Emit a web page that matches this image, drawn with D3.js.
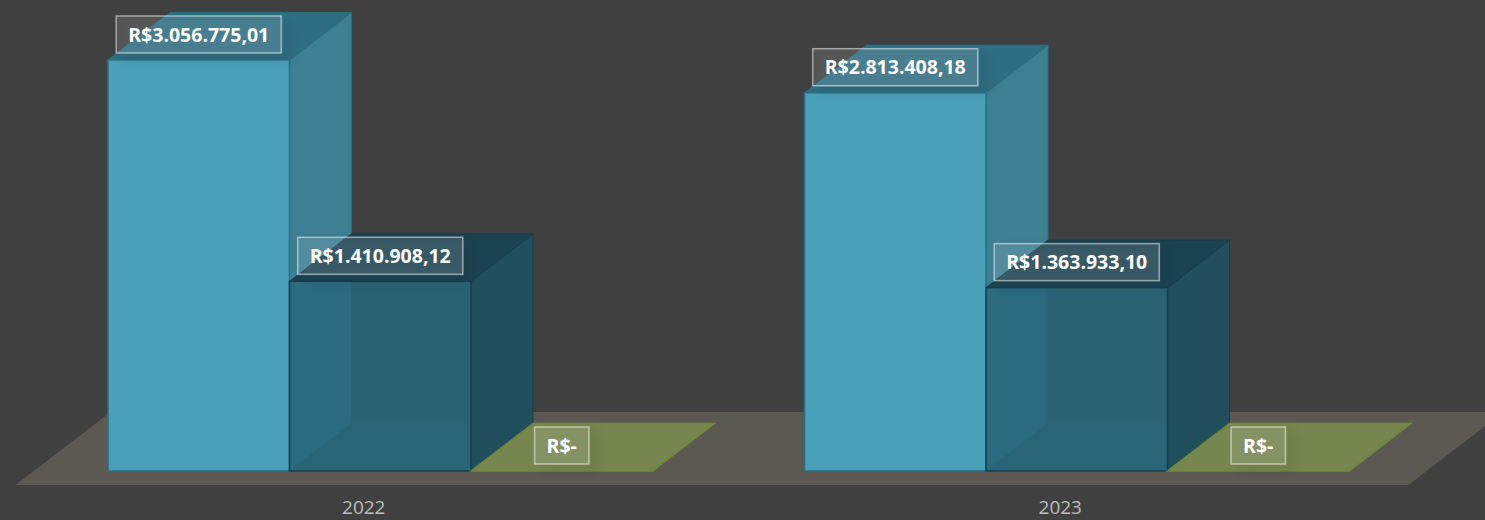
<!DOCTYPE html>
<html>
<head>
<meta charset="utf-8">
<script src="https://cdn.jsdelivr.net/npm/d3@7"></script>
<style>
  html, body { margin: 0; padding: 0; background: #404040; }
  svg { display: block; }
  text { font-family: "Open Sans", sans-serif; }
</style>
</head>
<body>
<div id="renderer"></div>
<script>
var categories = ['2022', '2023'];
var seriesNames = ['a', 'b', 'c'];
var series_a = [3056775.01, 2813408.18];
var series_b = [1410908.12, 1363933.10];
var series_c = [0, 0];

var width = 1485;
var height = 520;
var baseY = 471;
var depthX = 62;
var depthY = 47.5;

var svg = d3
  .select('#renderer')
  .append('svg')
  .attr('width', width)
  .attr('height', height);

svg.append('rect').attr('width', width).attr('height', height).attr('fill', '#404040');

var defs = svg.append('defs');
var shadow = defs.append('filter').attr('id', 'labelShadow')
  .attr('x', '-30%').attr('y', '-40%').attr('width', '170%').attr('height', '190%');
shadow.append('feDropShadow')
  .attr('dx', 8).attr('dy', 6).attr('stdDeviation', 6)
  .attr('flood-color', '#000').attr('flood-opacity', 0.42);

var x0 = d3.scaleBand().domain(categories).range([15.5, 1408.5]);
var x1 = d3.scaleBand().domain(seriesNames).range([92.5, 637]);
var y = d3.scaleLinear().domain([0, 3500000]).range([baseY, 0.4]);

var locale = d3.formatLocale({
  decimal: ',',
  thousands: '.',
  grouping: [3],
  currency: ['R$', '']
});
var money = locale.format('$,.2f');
function labelText(v) {
  return v === 0 ? 'R$-' : money(v);
}

// colours of the box faces for each series
var faces = {
  a: { front: '#4a9fb9', side: '#3d7f93', top: '#2f6e82', back: '#3b7a8d', floor: '#3b7a8d', edge: '#2a6f84', alpha: 1 },
  b: { front: '#28657a', side: '#224f5e', top: '#1c4351', back: '#335656', floor: '#32656a', edge: '#163f4e', alpha: 0.8 },
  c: { front: '#77864f', side: '#77864f', top: '#77864f', back: '#77864f', floor: '#77864f', edge: '#6f8a3a', alpha: 1 }
};

var rows = [];
categories.forEach(function (c, i) {
  rows.push({ cat: c, name: 'a', value: series_a[i] });
  rows.push({ cat: c, name: 'b', value: series_b[i] });
  rows.push({ cat: c, name: 'c', value: series_c[i] });
});

function pts(list) {
  return list.map(function (p) { return p[0] + ',' + p[1]; }).join(' ');
}

// floor
svg.append('polygon')
  .attr('points', pts([
    [15.5, baseY + 14],
    [x0.range()[1], baseY + 14],
    [x0.range()[1] + 95, baseY - 59],
    [15.5 + 95, baseY - 59]
  ]))
  .attr('fill', '#5c5852');

var bars = svg.append('g');

rows.forEach(function (d) {
  var f = faces[d.name];
  var left = x0(d.cat) + x1(d.name);
  var right = left + x1.bandwidth();
  var top = y(d.value);
  var g = bars.append('g');

  if (d.value === 0) {
    // nothing to stack, just the flat plate on the floor
    g.append('polygon')
      .attr('points', pts([
        [left, baseY], [right, baseY],
        [right + depthX, baseY - depthY], [left + depthX, baseY - depthY]
      ]))
      .attr('fill', f.top)
      .attr('stroke', f.edge)
      .attr('stroke-width', 1.5);
    return;
  }

  // back and floor faces show through the front
  g.append('rect')
    .attr('x', left + depthX).attr('y', top - depthY)
    .attr('width', x1.bandwidth()).attr('height', baseY - top)
    .attr('fill', f.back);
  g.append('polygon')
    .attr('points', pts([
      [left, baseY], [right, baseY],
      [right + depthX, baseY - depthY], [left + depthX, baseY - depthY]
    ]))
    .attr('fill', f.floor);
  g.append('polygon')
    .attr('points', pts([
      [right, top], [right + depthX, top - depthY],
      [right + depthX, baseY - depthY], [right, baseY]
    ]))
    .attr('fill', f.side)
    .attr('stroke', f.edge)
    .attr('stroke-width', 1);
  g.append('polygon')
    .attr('points', pts([
      [left, top], [right, top],
      [right + depthX, top - depthY], [left + depthX, top - depthY]
    ]))
    .attr('fill', f.top)
    .attr('stroke', f.edge)
    .attr('stroke-width', 1);
  g.append('rect')
    .attr('x', left).attr('y', top)
    .attr('width', x1.bandwidth()).attr('height', baseY - top)
    .attr('fill', f.front)
    .attr('fill-opacity', f.alpha)
    .attr('stroke', f.edge)
    .attr('stroke-width', 1.5);
});

// labels
var labels = svg.append('g');
rows.forEach(function (d) {
  var cx = x0(d.cat) + x1(d.name) + x1.bandwidth() / 2;
  var cy = y(d.value) - 25.5;
  var g = labels.append('g');
  var box = g.append('rect');
  var t = g.append('text')
    .attr('x', cx)
    .attr('y', cy)
    .attr('dy', '0.36em')
    .attr('text-anchor', 'middle')
    .attr('font-size', 19.5)
    .attr('font-weight', 700)
    .attr('fill', '#fff')
    .text(labelText(d.value));
  var w = t.node().getComputedTextLength() + 24;
  box
    .attr('x', cx - w / 2)
    .attr('y', cy - 18.5)
    .attr('width', w)
    .attr('height', 37)
    .attr('fill', 'rgba(255,255,255,0.1)')
    .attr('stroke', 'rgba(255,255,255,0.5)')
    .attr('stroke-width', 1.5)
    .attr('filter', 'url(#labelShadow)');
});

// year labels, kept just high enough to stay inside the picture
var axis = svg.append('g')
  .attr('transform', 'translate(0,' + 490 + ')')
  .call(d3.axisBottom(x0).tickSize(0).tickPadding(11));
axis.select('.domain').remove();
axis.selectAll('text')
  .attr('font-size', 19)
  .attr('font-family', '"Open Sans", sans-serif')
  .attr('fill', '#bdbdbd');
</script>
</body>
</html>
